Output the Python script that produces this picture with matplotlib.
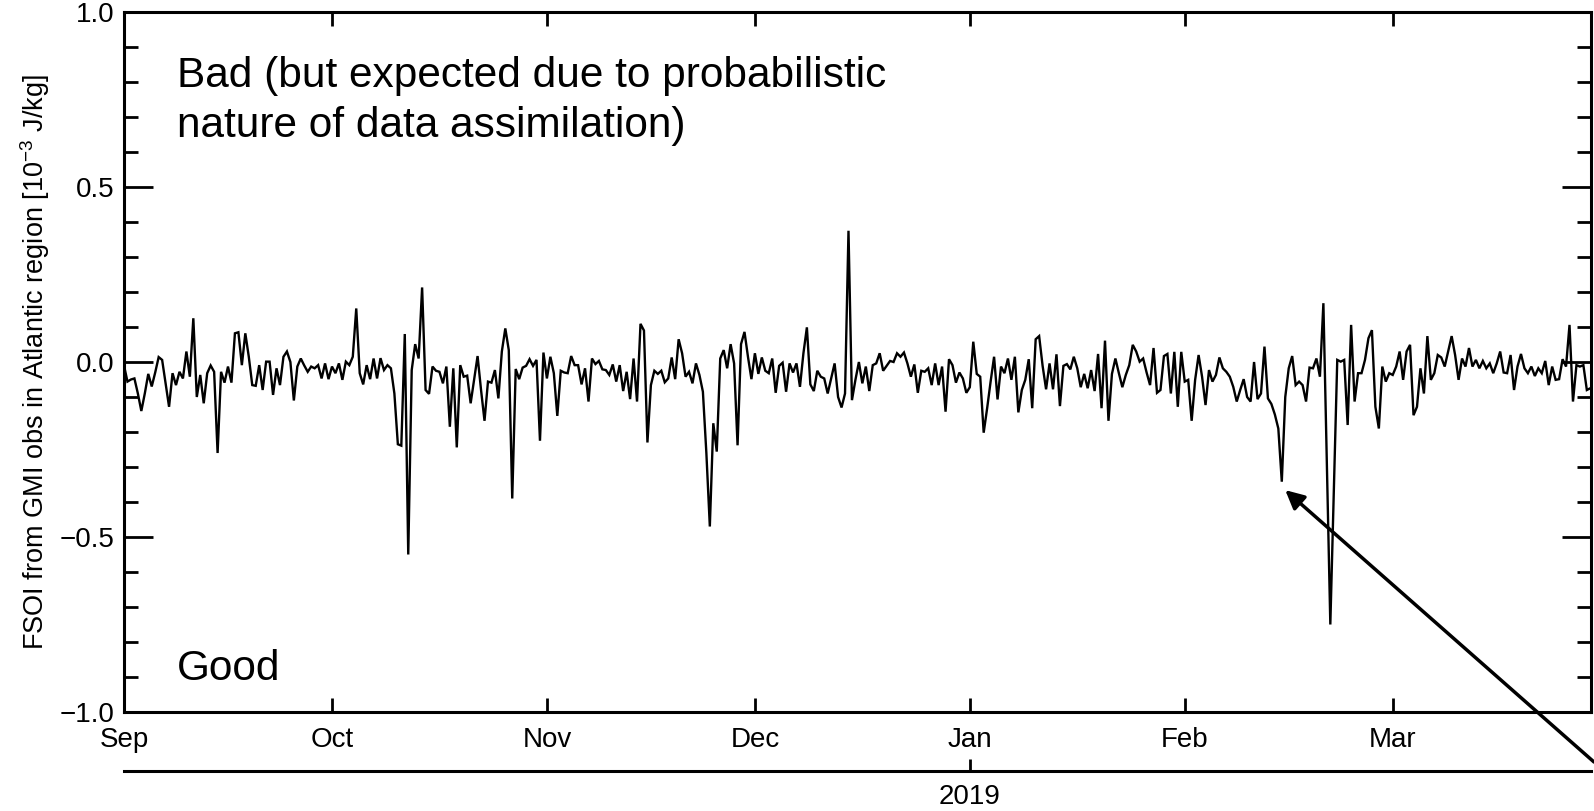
import numpy as np
import matplotlib
matplotlib.use('Agg')
import matplotlib.pyplot as plt
from matplotlib.ticker import MultipleLocator

plt.rcParams['font.family'] = ['Liberation Sans', 'DejaVu Sans']
plt.rcParams['mathtext.default'] = 'regular'

# ---- data ----
month_labels = ['Sep', 'Oct', 'Nov', 'Dec', 'Jan', 'Feb', 'Mar']
month_days = [0, 30, 61, 91, 122, 153, 183]      # days since 1 Sep 2018
year_labels = ['2019']
year_days = [122]
samples_per_day = 2                                 # 00Z / 12Z

fsoi = [
    -0.01, -0.056, -0.05, -0.047, -0.09, -0.14, -0.09, -0.034, -0.07, -0.03,
    0.014, 0.006, -0.06, -0.128, -0.032, -0.066, -0.028, -0.047, 0.03, -0.042,
    0.125, -0.10, -0.037, -0.118, -0.032, -0.01, -0.028, -0.26, -0.028, -0.059,
    -0.013, -0.059, 0.082, 0.085, -0.009, 0.082, 0.015, -0.066, -0.068, -0.009,
    -0.08, 0.001, 0.001, -0.094, -0.018, -0.066, 0.015, 0.03, 0.0, -0.11,
    -0.013, 0.01, -0.01, -0.028, -0.013, -0.018, -0.009, -0.047, -0.004, -0.049,
    -0.013, -0.032, -0.004, -0.051, 0.001, -0.009, 0.015, 0.153, -0.032, -0.064,
    -0.009, -0.049, 0.01, -0.047, 0.011, -0.023, -0.009, -0.018, -0.09, -0.235,
    -0.239, 0.08, -0.55, -0.023, 0.051, 0.01, 0.213, -0.08, -0.091, -0.013,
    -0.025, -0.028, -0.061, -0.013, -0.185, -0.018, -0.244, -0.009, -0.042, -0.039,
    -0.118, -0.051, 0.017, -0.08, -0.168, -0.056, -0.059, -0.023, -0.104, 0.03,
    0.096, 0.034, -0.39, -0.02, -0.049, -0.016, -0.011, 0.008, -0.011, 0.006,
    -0.225, 0.027, -0.047, 0.015, -0.032, -0.154, -0.025, -0.03, -0.032, 0.017,
    -0.009, -0.009, -0.064, -0.018, -0.113, 0.01, -0.006, 0.003, -0.021, -0.023,
    -0.037, -0.007, -0.056, -0.009, -0.083, -0.028, -0.106, 0.01, -0.113, 0.109,
    0.09, -0.23, -0.066, -0.025, -0.034, -0.025, -0.058, -0.047, 0.013, -0.049,
    0.065, 0.025, -0.042, -0.028, -0.061, -0.004, -0.037, -0.085, -0.26, -0.47,
    -0.175, -0.256, 0.01, 0.034, -0.018, 0.051, -0.004, -0.238, 0.051, 0.086,
    0.015, -0.049, 0.025, -0.034, 0.013, -0.025, -0.032, 0.01, -0.088, -0.011,
    -0.002, -0.085, -0.004, -0.03, -0.004, -0.071, 0.025, 0.099, -0.064, -0.083,
    -0.025, -0.042, -0.047, -0.09, -0.047, -0.004, -0.1, -0.13, -0.09, 0.375,
    -0.109, -0.051, 0.0, -0.061, -0.013, -0.083, -0.009, -0.004, 0.025, -0.025,
    -0.011, 0.003, 0.0, 0.025, 0.015, 0.027, -0.004, -0.042, -0.007, -0.088,
    -0.025, -0.028, -0.018, -0.066, -0.004, -0.066, -0.013, -0.142, 0.008, -0.009,
    -0.059, -0.03, -0.047, -0.088, -0.072, 0.058, -0.034, -0.042, -0.202, -0.132,
    -0.056, 0.015, -0.107, -0.013, -0.032, 0.01, -0.051, 0.015, -0.144, -0.08,
    -0.051, 0.008, -0.132, 0.065, 0.074, -0.011, -0.078, -0.004, -0.078, 0.022,
    -0.126, -0.011, -0.006, -0.021, 0.015, -0.018, -0.072, -0.034, -0.075, -0.023,
    -0.083, 0.023, -0.132, 0.061, -0.168, -0.034, 0.01, -0.032, -0.072, -0.037,
    -0.009, 0.049, 0.03, 0.001, 0.01, -0.03, -0.066, 0.04, -0.088, -0.08,
    0.017, 0.023, -0.09, 0.029, -0.128, 0.029, -0.056, -0.051, -0.168, -0.051,
    0.02, -0.042, -0.123, -0.023, -0.056, -0.037, 0.013, -0.018, -0.028, -0.042,
    -0.071, -0.113, -0.08, -0.049, -0.1, -0.113, 0.0, -0.106, -0.09, 0.044,
    -0.104, -0.12, -0.15, -0.19, -0.342, -0.1, -0.018, 0.017, -0.066, -0.056,
    -0.066, -0.113, -0.016, -0.018, 0.01, -0.042, 0.168, -0.29, -0.75, -0.37,
    0.006, 0.001, 0.006, -0.18, 0.106, -0.113, -0.032, -0.032, 0.006, 0.068,
    0.091, -0.128, -0.19, -0.013, -0.056, -0.032, -0.037, -0.013, 0.03, -0.051,
    0.03, 0.049, -0.152, -0.128, -0.018, -0.09, 0.074, -0.051, -0.032, 0.02,
    0.013, -0.013, 0.03, 0.074, 0.02, -0.051, 0.01, -0.013, 0.04, -0.013,
    0.006, -0.018, 0.003, -0.018, -0.004, -0.032, -0.004, 0.03, -0.03, -0.032,
    0.02, -0.08, -0.013, 0.023, -0.018, -0.032, -0.013, -0.04, -0.018, -0.032,
    0.003, -0.066, -0.013, -0.051, -0.049, 0.008, -0.013, 0.106, -0.113, -0.009,
    -0.013, -0.009, -0.08, -0.075,
]

# annotated minimum (arrow target), in days / FSOI units
arrow_target = (167.5, -0.366)

days = np.arange(len(fsoi)) / samples_per_day

W, H = 1594, 811
fig = plt.figure(figsize=(W / 100, H / 100), dpi=100)
ax = fig.add_axes([124 / W, 99 / H, 1467 / W, 700 / H])

ax.plot(days, fsoi, color='black', lw=1.7, solid_joinstyle='miter')

ax.set_xlim(0, 211.6)
ax.set_ylim(-1.0, 1.0)
ax.set_xticks(month_days, month_labels)
ax.set_yticks([-1.0, -0.5, 0.0, 0.5, 1.0])
ax.yaxis.set_minor_locator(MultipleLocator(0.1))

ax.tick_params(axis='y', which='major', direction='in', length=21, width=2,
               left=True, right=True, labelsize=20, pad=7)
ax.tick_params(axis='y', which='minor', direction='in', length=10, width=2,
               left=True, right=True)
ax.tick_params(axis='x', which='major', direction='in', length=10, width=2,
               top=True, bottom=True, labelsize=20, pad=11)
for s in ax.spines.values():
    s.set_linewidth(2.2)

# year axis below
sec = ax.secondary_xaxis(-0.0843)
sec.set_xticks(year_days, year_labels)
sec.tick_params(direction='in', length=9, width=2, labelsize=20, pad=9.5)
sec.spines['bottom'].set_linewidth(2.2)

fig.text(35 / W, (H - 362) / H,
         'FSOI from GMI obs in Atlantic region [10$^{-3}$ J/kg]',
         rotation=90, ha='center', va='center', fontsize=19.5)

ax.text(7.64, 0.786, 'Bad (but expected due to probabilistic',
        fontsize=30.5, va='baseline', ha='left')
ax.text(7.64, 0.643, 'nature of data assimilation)',
        fontsize=30.5, va='baseline', ha='left')
ax.text(7.64, -0.909, 'Good', fontsize=30.5, va='baseline', ha='left')

ax.annotate('', xy=arrow_target, xycoords='data',
            xytext=(1.0, 49 / H), textcoords='figure fraction',
            arrowprops=dict(arrowstyle='-|>', color='black', lw=2.5,
                            mutation_scale=28, shrinkA=0, shrinkB=0),
            annotation_clip=False)

fig.savefig('out.png', dpi=100)
